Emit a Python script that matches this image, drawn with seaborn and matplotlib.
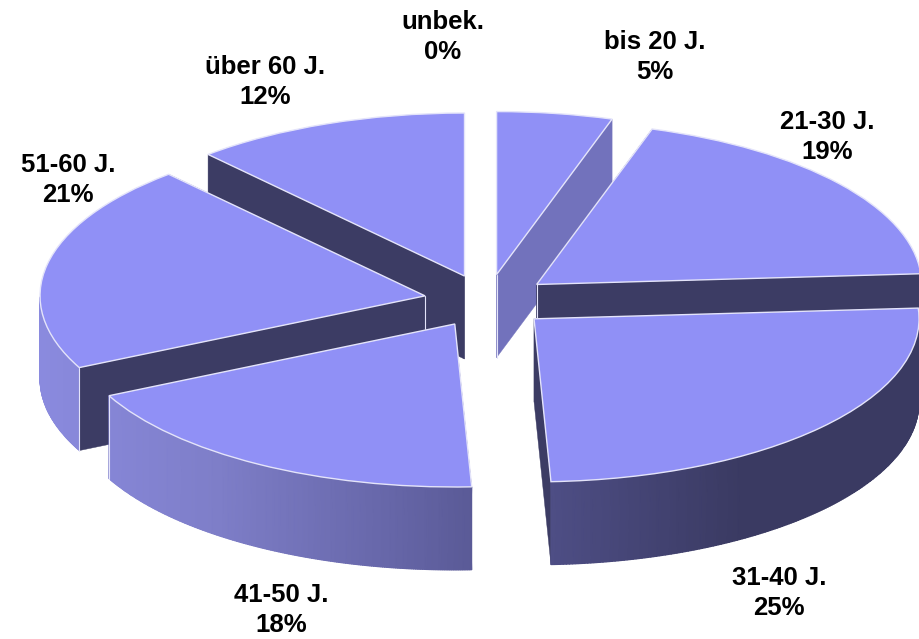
import numpy as np
import seaborn as sns
import matplotlib.pyplot as plt
from matplotlib.colors import LinearSegmentedColormap
from matplotlib.patches import Polygon

categories = ['bis 20 J.', '21-30 J.', '31-40 J.', '41-50 J.', '51-60 J.', 'über 60 J.', 'unbek.']
# printed percentages
values = [5, 19, 25, 18, 21, 12, 0]
shares = [4.85, 19.1, 25.35, 18.45, 20.65, 11.6, 0]
label_px = [(655, 57), (827, 137), (779, 593), (281, 610), (68, 180), (265, 82), (443, 37)]

sns.set_theme(style='white')
plt.rcParams['font.family'] = ['Liberation Sans', 'DejaVu Sans']

TOP = '#9090f6'
DARK = '#3c3c64'
LIGHT_SIDE = '#7272bc'
EDGE = '#e4e4fa'
wall_pal = sns.blend_palette(['#8a8ade', '#7e7ec8', '#6666a8', '#4c4c82', '#3a3a62', '#3a3a62'], 200)
wall_cmap = LinearSegmentedColormap.from_list('wall', wall_pal)
CX, CY, RX, RY = 487, 301, 385, 163
DEPTH = 83 / RY
apex_edges = [0, 1, 4]

fig = plt.figure(figsize=(9.2, 6.39), dpi=100)
ax = fig.add_axes([0, 0, 1, 1])
wedges, _ = ax.pie(shares, explode=[0.164] * len(shares), startangle=90, counterclock=False)
ax.set_aspect('auto')
xmin, xmax = (0 - CX) / RX, (920 - CX) / RX
ylim = ((CY - 639) / RY, CY / RY)
wall_lo, wall_hi = (40 - CX) / RX, xmax


def draw_slice(i, z):
    w = wedges[i]
    x0, y0 = w.center
    t = np.radians(np.linspace(w.theta1, w.theta2, 200))
    xs, ys = x0 + w.r * np.cos(t), y0 + w.r * np.sin(t)
    # radial walls
    for k in (0, -1):
        quad = [(x0, y0), (xs[k], ys[k]), (xs[k], ys[k] - DEPTH), (x0, y0 - DEPTH)]
        col = LIGHT_SIDE if i == 0 else DARK
        ax.add_patch(Polygon(quad, fc=col, ec=col, lw=0.3, zorder=z))
    # outer wall, only the part that faces the viewer
    low = np.sin(t) <= 0
    if low.sum() > 1:
        xl, yl = xs[low], ys[low]
        ax.pcolormesh(np.array([xl, xl]), np.array([yl - DEPTH, yl]), np.array([xl, xl]),
                      shading='gouraud', cmap=wall_cmap, vmin=wall_lo, vmax=wall_hi, zorder=z + 0.1)
    # light corner lines on the left side
    for k in (0, -1):
        if xs[k] < x0 and ys[k] < y0:
            ax.plot([xs[k], xs[k]], [ys[k], ys[k] - DEPTH], color=EDGE, lw=0.8, zorder=z + 0.15)
    if i in apex_edges:
        ax.plot([x0, x0], [y0, y0 - DEPTH], color=EDGE, lw=0.8, zorder=z + 0.05)
    w.set(facecolor=TOP, edgecolor=EDGE, linewidth=1.0, zorder=z + 0.2)


# back to front
order = [0, 5, 1, 4, 2, 3]
for z, i in enumerate(order):
    draw_slice(i, z + 1)
wedges[6].set_visible(False)
ax.set_xlim(xmin, xmax)
ax.set_ylim(*ylim)

for cat, val, (px, py) in zip(categories, values, label_px):
    fig.text(px / 920, 1 - py / 639, f'{cat}\n{val}%', ha='center', va='center',
             fontsize=18.5, fontweight='bold', color='black', linespacing=1.3)

fig.savefig('out.png', dpi=100)
